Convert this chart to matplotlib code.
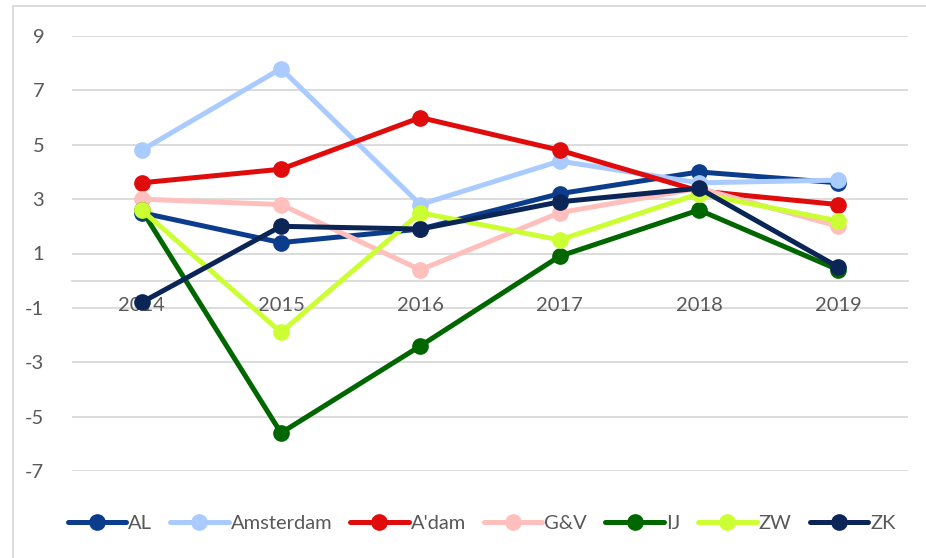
import matplotlib.pyplot as plt
from matplotlib.patches import Rectangle

years = ["2014", "2015", "2016", "2017", "2018", "2019"]

al = [2.5, 1.4, 1.9, 3.2, 4.0, 3.6]
amsterdam = [4.8, 7.8, 2.8, 4.4, 3.6, 3.7]
adam = [3.6, 4.1, 6.0, 4.8, 3.3, 2.8]
gv = [3.0, 2.8, 0.4, 2.5, 3.4, 2.0]
ij = [2.6, -5.6, -2.4, 0.9, 2.6, 0.4]
zw = [2.6, -1.9, 2.5, 1.5, 3.2, 2.2]
zk = [-0.8, 2.0, 1.9, 2.9, 3.4, 0.5]

series = [
    ("AL", al, "#0C3C8C"),
    ("Amsterdam", amsterdam, "#AACBFF"),
    ("A'dam", adam, "#E00C0C"),
    ("G&V", gv, "#FFBFBC"),
    ("IJ", ij, "#006600"),
    ("ZW", zw, "#CCFF33"),
    ("ZK", zk, "#0B2656"),
]

plt.rcParams["font.family"] = ["Lato", "DejaVu Sans"]
plt.rcParams["axes.unicode_minus"] = False
text_color = "#595959"
grid_color = "#D9D9D9"

fig = plt.figure(figsize=(9.26, 5.58), dpi=100)
ax = fig.add_axes([72 / 926, 1 - 471 / 558, (908 - 72) / 926, (471 - 36) / 558])

x = list(range(len(years)))
for name, vals, color in series:
    ax.plot(x, vals, color=color, lw=3.6, marker="o", markersize=11,
            solid_capstyle="round", label=name)

ax.set_xlim(-0.5, len(years) - 0.5)
ax.set_ylim(-7, 9)
ax.set_yticks(range(-7, 10, 2))
ax.set_xticks(x)
ax.set_xticklabels(years)
for y in range(-7, 10, 2):
    ax.axhline(y, color=grid_color, lw=1.3, zorder=0)

for side in ["left", "right", "top"]:
    ax.spines[side].set_visible(False)
ax.spines["bottom"].set_position(("data", 0))
ax.spines["bottom"].set_color(grid_color)
ax.spines["bottom"].set_linewidth(1.3)
ax.spines["bottom"].set_zorder(0)
ax.tick_params(axis="both", length=0, labelsize=14.5, labelcolor=text_color)
ax.tick_params(axis="x", pad=12)
ax.tick_params(axis="y", pad=20)

fig.legend(loc="center", bbox_to_anchor=(0.52, 1 - 523 / 558), ncol=7,
           frameon=False, fontsize=14.5, labelcolor=text_color,
           handlelength=2.9, handletextpad=0.1, columnspacing=0.9)

fig.patches.append(Rectangle((13 / 926, -0.01), 1.0, 1 - 6 / 558 + 0.01,
                             transform=fig.transFigure, fill=False,
                             edgecolor=grid_color, lw=1.3))

fig.savefig("out.png", dpi=100)
